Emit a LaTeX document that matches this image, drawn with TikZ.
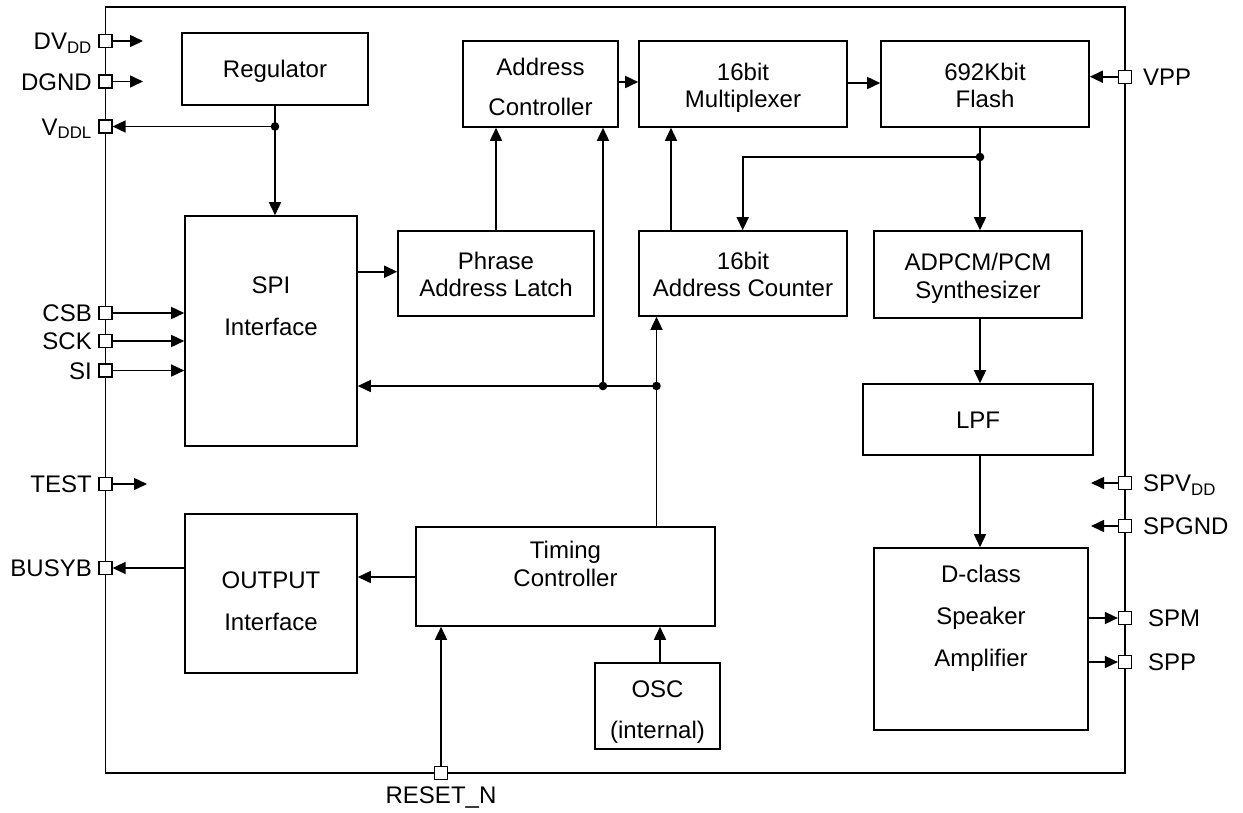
\documentclass[tikz,border=0pt]{standalone}
\usepackage{fontspec}
\setmainfont{Liberation Sans}
\usetikzlibrary{arrows.meta}
\begin{document}
\begin{tikzpicture}[x=1pt,y=-1pt,
  every node/.style={font=\fontsize{24}{27}\selectfont},
  box/.style={draw,line width=1.6pt,inner sep=0pt},
  lbl/.style={inner sep=0pt,text height=17pt,text depth=0pt},
  pin/.style={draw,fill=white,line width=1.2pt,minimum size=13pt,inner sep=0pt},
  plbl/.style={inner sep=0pt,text height=17pt,text depth=0pt},
  wire/.style={line width=1.6pt},
  arr/.style={line width=1.6pt,-{Triangle[length=13pt,width=12pt]}},
  dot/.style={fill=black}]
\useasboundingbox (0,0) rectangle (1243,812);
% chip outline
\draw[line width=1.6pt] (105.5,7) rectangle (1125,773);

% blocks
\node[box,minimum width=186pt,minimum height=72pt] (reg) at (275,69) {};
\node[lbl] (reg-t) at (275,69) {Regulator};
\node[box,minimum width=155pt,minimum height=86pt] (addr) at (540.5,84) {};
\node[lbl] (addr-t1) at (540.5,67) {Address};
\node[lbl] (addr-t2) at (540.5,107) {Controller};
\node[box,minimum width=208pt,minimum height=86pt] (mux) at (743,84) {};
\node[lbl] (mux-t1) at (743,72) {16bit};
\node[lbl] (mux-t2) at (743,99) {Multiplexer};
\node[box,minimum width=208pt,minimum height=86pt] (flash) at (985,84) {};
\node[lbl] (flash-t1) at (985,72) {692Kbit};
\node[lbl] (flash-t2) at (985,99) {Flash};
\node[box,minimum width=172pt,minimum height=230pt] (spi) at (271,331) {};
\node[lbl] (spi-t1) at (271,285) {SPI};
\node[lbl] (spi-t2) at (271,327) {Interface};
\node[box,minimum width=196pt,minimum height=85pt] (phrase) at (496,273.5) {};
\node[lbl] (phrase-t1) at (496,261) {Phrase};
\node[lbl] (phrase-t2) at (496,288) {Address Latch};
\node[box,minimum width=208pt,minimum height=85pt] (counter) at (743,273.5) {};
\node[lbl] (counter-t1) at (743,261) {16bit};
\node[lbl] (counter-t2) at (743,288) {Address Counter};
\node[box,minimum width=208pt,minimum height=87pt] (adpcm) at (978,274.5) {};
\node[lbl] (adpcm-t1) at (978,262) {ADPCM/PCM};
\node[lbl] (adpcm-t2) at (978,290) {Synthesizer};
\node[box,minimum width=230pt,minimum height=71pt] (lpf) at (978,419.5) {};
\node[lbl] (lpf-t) at (978,419.5) {LPF};
\node[box,minimum width=214pt,minimum height=182pt] (amp) at (981,639) {};
\node[lbl] (amp-t1) at (981,574) {D-class};
\node[lbl] (amp-t2) at (981,616) {Speaker};
\node[lbl] (amp-t3) at (981,658) {Amplifier};
\node[box,minimum width=172pt,minimum height=159pt] (output) at (271,593.5) {};
\node[lbl] (output-t1) at (271,580) {OUTPUT};
\node[lbl] (output-t2) at (271,622) {Interface};
\node[box,minimum width=299pt,minimum height=99pt] (timing) at (565.5,576.5) {};
\node[lbl] (timing-t1) at (565.5,550) {Timing};
\node[lbl] (timing-t2) at (565.5,578) {Controller};
\node[box,minimum width=125pt,minimum height=86pt] (osc) at (657.5,706) {};
\node[lbl] (osc-t1) at (657.5,689) {OSC};
\node[lbl] (osc-t2) at (657.5,730) {(internal)};

% pins left
\node[pin] (p-dvdd) at (105.5,41) {};
\node[pin] (p-dgnd) at (105.5,81.5) {};
\node[pin] (p-vddl) at (105.5,126.5) {};
\node[pin] (p-csb) at (105.5,313) {};
\node[pin] (p-sck) at (105.5,341) {};
\node[pin] (p-si) at (105.5,370.5) {};
\node[pin] (p-test) at (105.5,484) {};
\node[pin] (p-busy) at (105.5,568) {};
\node[plbl,anchor=east] (l-dvdd) at (92,41) {DV\textsubscript{DD}};
\node[plbl,anchor=east] (l-dgnd) at (92,81.5) {DGND};
\node[plbl,anchor=east] (l-vddl) at (92,126.5) {V\textsubscript{DDL}};
\node[plbl,anchor=east] (l-csb) at (92,313) {CSB};
\node[plbl,anchor=east] (l-sck) at (92,341) {SCK};
\node[plbl,anchor=east] (l-si) at (92,370.5) {SI};
\node[plbl,anchor=east] (l-test) at (92,484) {TEST};
\node[plbl,anchor=east] (l-busy) at (92,568) {BUSYB};
% pins right
\node[pin] (p-vpp) at (1125,76.7) {};
\node[pin] (p-spvdd) at (1125,483) {};
\node[pin] (p-spgnd) at (1125,526) {};
\node[pin] (p-spm) at (1125,618) {};
\node[pin] (p-spp) at (1125,662) {};
\node[plbl,anchor=west] (l-vpp) at (1143,76.7) {VPP};
\node[plbl,anchor=west] (l-spvdd) at (1143,483) {SPV\textsubscript{DD}};
\node[plbl,anchor=west] (l-spgnd) at (1143,526) {SPGND};
\node[plbl,anchor=west] (l-spm) at (1148,618) {SPM};
\node[plbl,anchor=west] (l-spp) at (1148,662) {SPP};
% pin bottom
\node[pin] (p-reset) at (441,773) {};
\node[plbl] (l-reset) at (441,795) {RESET\_N};

% helper coordinates
\coordinate (e-dvdd) at (143,41);
\coordinate (e-dgnd) at (143,81.5);
\coordinate (e-test) at (147,484);
\coordinate (e-spvdd) at (1091,483);
\coordinate (e-spgnd) at (1091,526);
\coordinate (j-reg) at (275,126.5);
\coordinate (r-sp) at (0,271.7);
\coordinate (r-top1) at (0,82);
\coordinate (r-top2) at (0,83);
\coordinate (jb1) at (603,386);
\coordinate (jb2) at (656.5,386);
\coordinate (jf) at (980,157);
\coordinate (c-in) at (742.7,157);
\coordinate (c-out) at (671,0);
\coordinate (r-to) at (0,577);
\coordinate (x-osc) at (660,0);

% connectors
\draw[arr] (p-dvdd.east) -- (e-dvdd);
\draw[arr] (p-dgnd.east) -- (e-dgnd);
\draw[arr] (p-test.east) -- (e-test);
\draw[arr] (reg.south) -- (spi.north -| reg.south);
\draw[arr] (j-reg) -- (p-vddl.east);
\fill[dot] (j-reg) circle (4.3pt);
\draw[arr] (p-csb.east) -- (p-csb.east -| spi.west);
\draw[arr] (p-sck.east) -- (p-sck.east -| spi.west);
\draw[arr] (p-si.east) -- (p-si.east -| spi.west);
\draw[arr] (spi.east |- r-sp) -- (phrase.west |- r-sp);
\draw[arr] (phrase.north) -- (addr.south -| phrase.north);
\draw[arr] (addr.east |- r-top1) -- (mux.west |- r-top1);
\draw[arr] (mux.east |- r-top2) -- (flash.west |- r-top2);
\draw[arr] (p-vpp.west) -- (flash.east |- p-vpp);
\draw[wire] (flash.south -| jf) -- (jf);
\draw[arr] (jf) -- (adpcm.north -| jf);
\draw[arr] (jf) -- (c-in) -- (counter.north -| c-in);
\fill[dot] (jf) circle (4.3pt);
\draw[arr] (counter.north -| c-out) -- (mux.south -| c-out);
\draw[wire] (timing.north -| jb2) -- (jb2);
\draw[arr] (jb2) -- (counter.south -| jb2);
\draw[arr] (jb2) -- (spi.east |- jb2);
\draw[arr] (jb1) -- (addr.south -| jb1);
\fill[dot] (jb1) circle (4.3pt);
\fill[dot] (jb2) circle (4.3pt);
\draw[arr] (timing.west |- r-to) -- (output.east |- r-to);
\draw[arr] (output.west |- p-busy) -- (p-busy.east);
\draw[arr] (osc.north -| x-osc) -- (timing.south -| x-osc);
\draw[arr] (p-reset.north) -- (timing.south -| p-reset);
\draw[arr] (adpcm.south -| jf) -- (lpf.north -| jf);
\draw[arr] (lpf.south -| jf) -- (amp.north -| jf);
\draw[arr] (amp.east |- p-spm) -- (p-spm.west);
\draw[arr] (amp.east |- p-spp) -- (p-spp.west);
\draw[arr] (p-spvdd.west) -- (e-spvdd);
\draw[arr] (p-spgnd.west) -- (e-spgnd);
\end{tikzpicture}
\end{document}
